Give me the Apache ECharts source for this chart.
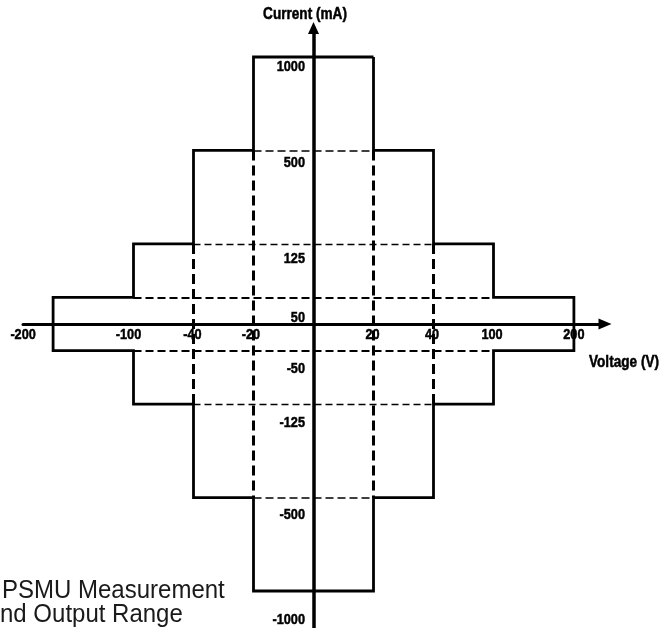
<!DOCTYPE html>
<html><head><meta charset="utf-8">
<script src="https://cdn.jsdelivr.net/npm/echarts@6/dist/echarts.min.js"></script>
<style>html,body{margin:0;padding:0;background:#fff}#c{width:666px;height:628px}</style>
</head><body><div id="c"></div>
<script>
// ---- data ----
const voltageTicks = [-200, -100, -40, -20, 20, 40, 100, 200];
const currentTicks = [1000, 500, 125, 50, -50, -125, -500, -1000];
const rangeVoltage = [20, 40, 100, 200];     // V limit of each range
const rangeCurrent = [1000, 500, 125, 50];   // mA limit of each range
const dashedVerticalVoltages = [20, 40];
const axisTitleX = 'Voltage (V)';
const axisTitleY = 'Current (mA)';
const captionLines = ['PSMU Measurement', 'nd Output Range'];

// ---- layout (schematic, non-linear scale) ----
const V_MAG = [0, 20, 40, 100, 200], V_POS = [0, 1, 2, 3, 4.34];
const C_MAG = [0, 50, 125, 500, 1000], C_POS = [0, 1, 3, 6.5, 10];
function mapPiece(v, mags, pos) {
  const s = v < 0 ? -1 : 1, a = Math.abs(v);
  for (let i = 1; i < mags.length; i++) {
    if (a <= mags[i]) {
      const t = (a - mags[i - 1]) / (mags[i] - mags[i - 1]);
      return s * (pos[i - 1] + t * (pos[i] - pos[i - 1]));
    }
  }
  return s * pos[pos.length - 1];
}
const X = v => mapPiece(v, V_MAG, V_POS);
const Y = c => mapPiece(c, C_MAG, C_POS);

const xLabelDx = { '-200': -30, '-100': -5, '-40': -1, '-20': -2.5, '20': -1, '40': -1.5, '100': -1.5, '200': 0 };
const yLabelDy = { '1000': 10, '500': 12, '125': 15, '50': 20, '-50': 18, '-125': 19, '-500': 17.5, '-1000': 29 };

// ---- outline (union of ranges) ----
const n = rangeVoltage.length;
const right = [[rangeVoltage[0], rangeCurrent[0]]];
for (let k = 0; k < n - 1; k++) {
  right.push([rangeVoltage[k], rangeCurrent[k + 1]]);
  right.push([rangeVoltage[k + 1], rangeCurrent[k + 1]]);
}
for (let k = n - 2; k >= 0; k--) {
  right.push([rangeVoltage[k + 1], -rangeCurrent[k + 1]]);
  right.push([rangeVoltage[k], -rangeCurrent[k + 1]]);
}
right.push([rangeVoltage[0], -rangeCurrent[0]]);
const left = right.slice().reverse().map(p => [-p[0], p[1]]);
const outline = right.concat(left, [right[0]]).map(p => [X(p[0]), Y(p[1])]);

// ---- dashed interior edges ----
const hWidths = [0, 1.7, 1.4, 2];
const hDash = [null, [8, 4], [7, 4], [8, 4]];
const dashedH = [];
for (let k = 1; k < n; k++) {
  [1, -1].forEach(s => dashedH.push({
    coords: [[X(-rangeVoltage[k - 1]), Y(s * rangeCurrent[k])], [X(rangeVoltage[k - 1]), Y(s * rangeCurrent[k])]],
    lineStyle: { width: hWidths[k], type: hDash[k] }
  }));
}
const dashedV = [];
dashedVerticalVoltages.forEach(v => {
  const k = rangeVoltage.indexOf(v);
  [1, -1].forEach(s => dashedV.push({
    coords: [[X(s * v), Y(rangeCurrent[k + 1])], [X(s * v), Y(-rangeCurrent[k + 1])]]
  }));
});

// grid geometry
const gx0 = 23, gx1 = 605, xZero = 313.5, xUnit = 60;
const gy0 = 28, gy1 = 630, yZero = 324, yUnit = 26.7;

const FONT = "'Liberation Sans', Arial, sans-serif";
const chart = echarts.init(document.getElementById('c'), null, { renderer: 'canvas' });
chart.setOption({
  animation: false,
  backgroundColor: '#fff',
  grid: { left: gx0, top: gy0, width: gx1 - gx0, height: gy1 - gy0, containLabel: false, outerBoundsMode: 'none' },
  xAxis: {
    type: 'value', min: (gx0 - xZero) / xUnit, max: (gx1 - xZero) / xUnit,
    axisLine: { show: true, onZero: true, symbol: ['none', 'triangle'], symbolSize: [11, 13], lineStyle: { color: '#000', width: 3 } },
    axisTick: { show: false }, axisLabel: { show: false }, splitLine: { show: false }
  },
  yAxis: {
    type: 'value', min: (yZero - gy1) / yUnit, max: (yZero - gy0) / yUnit,
    axisLine: { show: true, onZero: true, symbol: ['none', 'triangle'], symbolSize: [11, 12], lineStyle: { color: '#000', width: 3.5 } },
    axisTick: { show: false }, axisLabel: { show: false }, splitLine: { show: false }
  },
  series: [
    {
      type: 'lines', coordinateSystem: 'cartesian2d', silent: true, z: 1,
      lineStyle: { color: '#000', cap: 'butt', opacity: 1 },
      data: dashedH
    },
    {
      type: 'lines', coordinateSystem: 'cartesian2d', silent: true, z: 1,
      lineStyle: { color: '#000', width: 3, type: [10, 5], cap: 'butt', opacity: 1 },
      data: dashedV
    },
    {
      type: 'line', data: outline, showSymbol: false, silent: true, z: 3,
      lineStyle: { color: '#000', width: 2.8, join: 'miter', cap: 'butt' }
    }
  ]
});

// ---- tick labels placed through the axes' own scales ----
function txt(x, y, text, align) {
  return {
    type: 'text', x: x, y: y, scaleX: 0.82, silent: true, z: 10,
    style: { text: text, align: align, verticalAlign: 'middle', fontFamily: FONT, fontWeight: 'bold', fontSize: 15.5,
             fill: '#000', stroke: '#000', lineWidth: 0.5 }
  };
}
const graphics = [];
voltageTicks.forEach(v => {
  const p = chart.convertToPixel({ gridIndex: 0 }, [X(v), 0]);
  graphics.push(txt(p[0] + xLabelDx[String(v)], p[1] + 11, String(v), 'center'));
});
currentTicks.forEach(c => {
  const p = chart.convertToPixel({ gridIndex: 0 }, [0, Y(c)]);
  graphics.push(txt(p[0] - 8.5, p[1] + yLabelDy[String(c)], String(c), 'right'));
});
const t1 = txt(305, 15, axisTitleY, 'center'); t1.style.fontSize = 16; t1.scaleX = 0.85;
const t2 = txt(589, 363, axisTitleX, 'left'); t2.style.fontSize = 16; t2.scaleX = 0.85;
graphics.push(t1, t2);
graphics.push({ type: 'text', x: 2, y: 591, silent: true, scaleX: 0.96,
  style: { text: captionLines[0], align: 'left', verticalAlign: 'middle', fontFamily: FONT, fontSize: 25, fill: '#1a1a1a' } });
graphics.push({ type: 'text', x: 0, y: 615, silent: true, scaleX: 0.96,
  style: { text: captionLines[1], align: 'left', verticalAlign: 'middle', fontFamily: FONT, fontSize: 25, fill: '#1a1a1a' } });
chart.setOption({ graphic: graphics });
</script>
</body></html>
